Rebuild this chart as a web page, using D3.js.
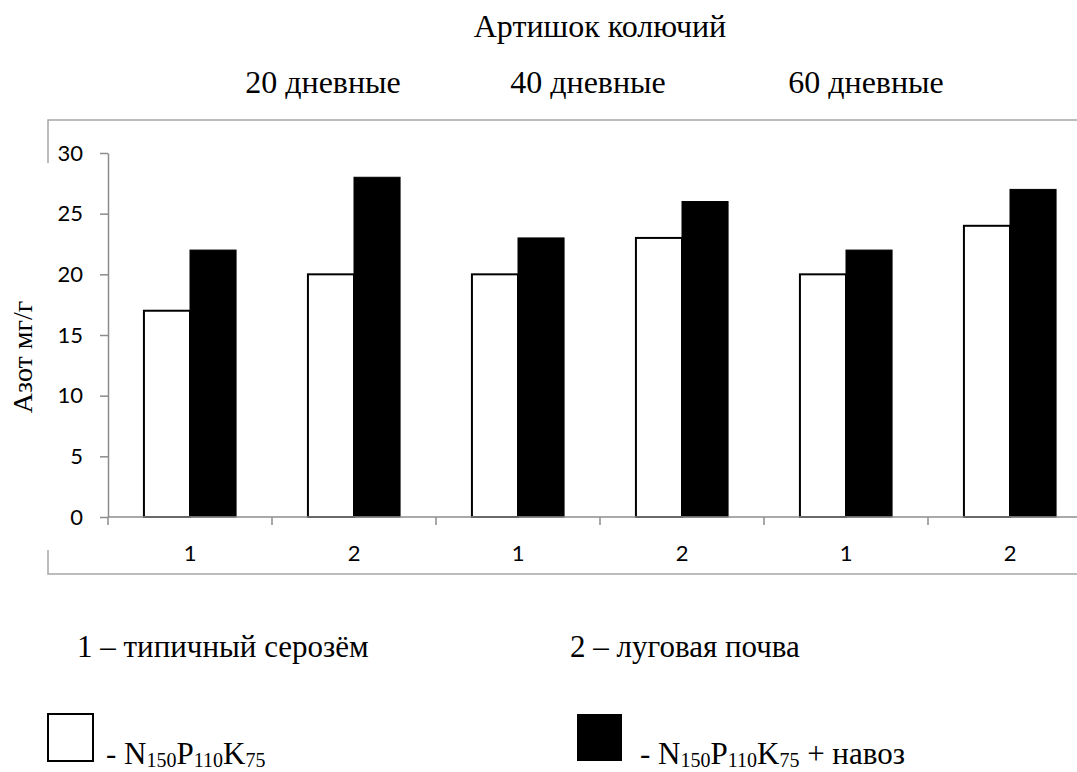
<!DOCTYPE html>
<html>
<head>
<meta charset="utf-8">
<script src="https://cdn.jsdelivr.net/npm/d3@7"></script>
<style>
  body { margin: 0; background: #fff; }
  svg { display: block; }
  .axis text { font-family: Lato, "Open Sans", sans-serif; font-size: 22px; fill: #000; }
  .axis path, .axis line { stroke: #8c8c8c; stroke-width: 1.5; }
</style>
</head>
<body>
<script>
// Chart data
const soils = ["1", "2", "1", "2", "1", "2"];
const series = ["N150P110K75", "N150P110K75 + навоз"];
const mineral = [17, 20, 20, 23, 20, 24];
const manure = [22, 28, 23, 26, 22, 27];
const periods = ["20 дневные", "40 дневные", "60 дневные"];
const yTicks = [0, 5, 10, 15, 20, 25, 30];

const w = 1077;
const h = 772;
const serif = "'Liberation Serif', Tinos, 'Times New Roman', serif";

// Plot area
const plotLeft = 108;
const plotTop = 153;
const plotBottom = 517;
const step = 164;

const svg = d3.select("body")
  .append("svg")
  .attr("width", w)
  .attr("height", h);

// Chart frame (grey border, partly covered by the plot)
svg.append("path")
  .attr("d", `M${w + 2},120 H48 V574 H${w + 2}`)
  .attr("fill", "none")
  .attr("stroke", "#a6a6a6")
  .attr("stroke-width", 1.5);
svg.append("rect")
  .attr("x", 0)
  .attr("y", 163)
  .attr("width", 100)
  .attr("height", 387)
  .attr("fill", "#fff");

const x0 = d3.scaleBand()
  .domain(d3.range(soils.length))
  .range([plotLeft, plotLeft + step * soils.length])
  .padding(0);

const x1 = d3.scaleBand()
  .domain(series)
  .range([0, x0.bandwidth()])
  .paddingInner(0)
  .paddingOuter(0.78);

const y = d3.scaleLinear()
  .domain([0, 30])
  .range([plotBottom, plotTop]);

const rows = soils.map((s, i) => ({ i, values: [mineral[i], manure[i]] }));

// Bars
const groups = svg.selectAll(".grp")
  .data(rows)
  .enter()
  .append("g")
  .attr("class", "grp")
  .attr("transform", d => `translate(${x0(d.i)},0)`);

groups.selectAll("rect")
  .data(d => d.values.map((v, k) => ({ key: series[k], k, v })))
  .enter()
  .append("rect")
  .attr("x", d => x1(d.key))
  .attr("y", d => y(d.v))
  .attr("width", x1.bandwidth())
  .attr("height", d => y(0) - y(d.v))
  .attr("fill", d => d.k === 0 ? "#fff" : "#000")
  .attr("stroke", "#000")
  .attr("stroke-width", d => d.k === 0 ? 2 : 1);

// Y axis
svg.append("g")
  .attr("class", "axis")
  .attr("transform", `translate(${plotLeft},0)`)
  .call(d3.axisLeft(y).tickValues(yTicks).tickSize(8).tickPadding(17).tickSizeOuter(0));

// X axis
const xAxis = svg.append("g")
  .attr("class", "axis")
  .attr("transform", `translate(0,${plotBottom})`)
  .call(d3.axisBottom(x0).tickSize(0).tickPadding(28).tickFormat(i => soils[i]));
xAxis.select(".domain").remove();
xAxis.append("line")
  .attr("x1", plotLeft)
  .attr("x2", w)
  .attr("y1", 0)
  .attr("y2", 0);
xAxis.selectAll(".sep")
  .data(d3.range(soils.length + 1))
  .enter()
  .append("line")
  .attr("class", "sep")
  .attr("x1", i => plotLeft + step * i)
  .attr("x2", i => plotLeft + step * i)
  .attr("y1", 0)
  .attr("y2", 8);

// Y axis title
svg.append("text")
  .attr("transform", "translate(32,357) rotate(-90)")
  .attr("text-anchor", "middle")
  .style("font-family", serif)
  .style("font-size", "28px")
  .text("Азот мг/г");

// Titles
svg.append("text")
  .attr("x", 600)
  .attr("y", 37)
  .attr("text-anchor", "middle")
  .style("font-family", serif)
  .style("font-size", "32px")
  .text("Артишок колючий");

const periodX = [323, 588, 866];
svg.selectAll(".period")
  .data(periods)
  .enter()
  .append("text")
  .attr("class", "period")
  .attr("x", (d, i) => periodX[i])
  .attr("y", 93)
  .attr("text-anchor", "middle")
  .style("font-family", serif)
  .style("font-size", "32px")
  .text(d => d);

// Soil notes
const notes = ["1 – типичный серозём", "2 – луговая почва"];
const noteX = [77, 570];
svg.selectAll(".note")
  .data(notes)
  .enter()
  .append("text")
  .attr("class", "note")
  .attr("x", (d, i) => noteX[i])
  .attr("y", 657)
  .style("font-family", serif)
  .style("font-size", "31px")
  .text(d => d);

// Legend
const legX = [48, 577];
const leg = svg.selectAll(".leg")
  .data(series)
  .enter()
  .append("g")
  .attr("class", "leg")
  .attr("transform", (d, i) => `translate(${legX[i]},714)`);

leg.append("rect")
  .attr("width", 45)
  .attr("height", 47)
  .attr("fill", (d, i) => i === 0 ? "#fff" : "#000")
  .attr("stroke", "#000")
  .attr("stroke-width", (d, i) => i === 0 ? 2 : 0);

leg.append("text")
  .attr("x", (d, i) => i === 0 ? 58 : 63)
  .attr("y", 50)
  .style("font-family", serif)
  .style("font-size", "31px")
  .each(function(d) {
    const t = d3.select(this);
    // name split into normal text and subscripts
    const parts = [["- N", 0], ["150", 1], ["P", 0], ["110", 1], ["K", 0], ["75", 1]];
    if (d.includes("навоз")) parts.push([" + навоз", 0]);
    parts.forEach(([s, sub], j) => {
      const prevSub = j > 0 && parts[j - 1][1];
      t.append("tspan")
        .style("font-size", sub ? "20px" : "31px")
        .attr("dy", sub ? 3 : (prevSub ? -3 : 0))
        .text(s);
    });
  });
</script>
</body>
</html>
